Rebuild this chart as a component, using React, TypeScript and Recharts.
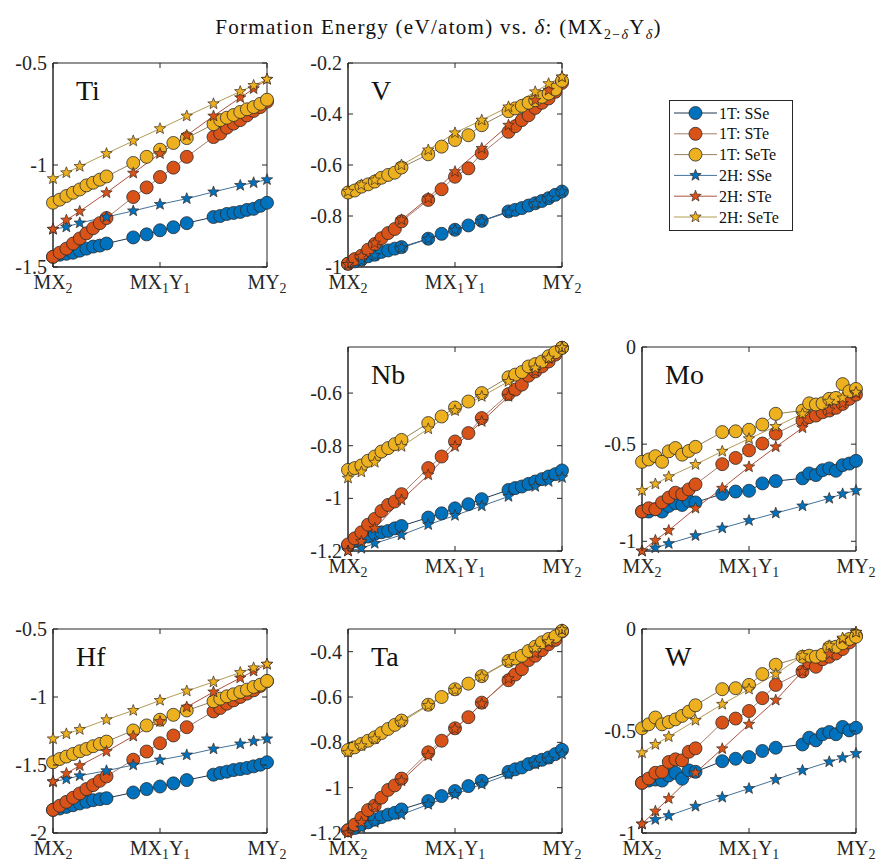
import React from "react";
import { LineChart, Line, XAxis, YAxis, ReferenceArea } from "recharts";

// delta values: 1T sampled densely near the ends, 2H on a coarser grid
const delta1T = [0, 0.0625, 0.125, 0.1875, 0.25, 0.3125, 0.375, 0.4375, 0.5, 0.75, 0.875, 1, 1.125, 1.25, 1.5, 1.5625, 1.625, 1.6875, 1.75, 1.8125, 1.875, 1.9375, 2];
const delta2H = [0, 0.125, 0.25, 0.5, 0.75, 1, 1.25, 1.5, 1.75, 1.875, 2];
const xTicks = [0, 1, 2];
const xTickLabels = ["MX_2", "MX_1Y_1", "MY_2"];
const seriesLabels = ["1T: SSe", "1T: STe", "1T: SeTe", "2H: SSe", "2H: STe", "2H: SeTe"];

// Ti
const ti1T_SSe = [-1.45, -1.44, -1.435, -1.43, -1.42, -1.41, -1.4, -1.395, -1.385, -1.355, -1.34, -1.32, -1.305, -1.285, -1.255, -1.25, -1.24, -1.235, -1.23, -1.22, -1.215, -1.2, -1.185];
const ti1T_STe = [-1.45, -1.43, -1.41, -1.385, -1.36, -1.335, -1.31, -1.285, -1.26, -1.157, -1.11, -1.059, -1.013, -0.96, -0.863, -0.846, -0.817, -0.797, -0.78, -0.757, -0.735, -0.716, -0.69];
const ti1T_SeTe = [-1.185, -1.17, -1.152, -1.136, -1.12, -1.1, -1.087, -1.072, -1.056, -0.99, -0.96, -0.925, -0.892, -0.868, -0.8, -0.78, -0.768, -0.755, -0.74, -0.727, -0.716, -0.7, -0.68];
const ti2H_SSe = [-1.315, -1.304, -1.284, -1.255, -1.225, -1.193, -1.165, -1.132, -1.1, -1.087, -1.072];
const ti2H_STe = [-1.315, -1.27, -1.227, -1.136, -1.04, -0.944, -0.855, -0.76, -0.67, -0.626, -0.58];
const ti2H_SeTe = [-1.067, -1.038, -1.007, -0.944, -0.882, -0.822, -0.76, -0.7, -0.64, -0.61, -0.58];

// V
const v1T_SSe = [-0.987, -0.978, -0.971, -0.958, -0.952, -0.941, -0.935, -0.928, -0.922, -0.889, -0.87, -0.854, -0.837, -0.819, -0.782, -0.776, -0.769, -0.759, -0.75, -0.741, -0.73, -0.717, -0.704];
const v1T_STe = [-0.987, -0.969, -0.956, -0.932, -0.91, -0.887, -0.867, -0.851, -0.821, -0.737, -0.695, -0.646, -0.613, -0.554, -0.47, -0.448, -0.424, -0.405, -0.376, -0.356, -0.339, -0.313, -0.278];
const v1T_SeTe = [-0.708, -0.7, -0.685, -0.676, -0.665, -0.65, -0.639, -0.63, -0.61, -0.558, -0.528, -0.502, -0.483, -0.444, -0.389, -0.378, -0.368, -0.356, -0.346, -0.333, -0.32, -0.304, -0.27];
const v2H_SSe = [-0.99, -0.975, -0.955, -0.925, -0.89, -0.855, -0.82, -0.785, -0.752, -0.73, -0.705];
const v2H_STe = [-0.99, -0.958, -0.906, -0.815, -0.73, -0.626, -0.535, -0.444, -0.346, -0.307, -0.255];
const v2H_SeTe = [-0.704, -0.678, -0.659, -0.6, -0.541, -0.474, -0.424, -0.372, -0.313, -0.281, -0.255];

// Nb
const nb1T_SSe = [-1.18, -1.162, -1.152, -1.145, -1.135, -1.129, -1.124, -1.114, -1.105, -1.073, -1.057, -1.038, -1.022, -1.003, -0.968, -0.961, -0.955, -0.945, -0.936, -0.927, -0.917, -0.908, -0.894];
const nb1T_STe = [-1.175, -1.152, -1.129, -1.1, -1.078, -1.048, -1.025, -1.012, -0.984, -0.885, -0.841, -0.784, -0.752, -0.695, -0.604, -0.587, -0.568, -0.534, -0.518, -0.499, -0.48, -0.454, -0.428];
const nb1T_SeTe = [-0.892, -0.885, -0.875, -0.857, -0.841, -0.822, -0.809, -0.794, -0.778, -0.714, -0.689, -0.655, -0.632, -0.6, -0.54, -0.53, -0.52, -0.499, -0.49, -0.48, -0.46, -0.445, -0.428];
const nb2H_SSe = [-1.2, -1.19, -1.171, -1.139, -1.1, -1.065, -1.029, -0.993, -0.955, -0.936, -0.921];
const nb2H_STe = [-1.2, -1.164, -1.114, -1.006, -0.911, -0.803, -0.708, -0.613, -0.518, -0.469, -0.428];
const nb2H_SeTe = [-0.923, -0.9, -0.863, -0.803, -0.736, -0.667, -0.613, -0.556, -0.505, -0.467, -0.428];

// Mo
const mo1T_SSe = [-0.847, -0.847, -0.835, -0.847, -0.818, -0.804, -0.813, -0.792, -0.8, -0.756, -0.744, -0.74, -0.702, -0.69, -0.676, -0.651, -0.659, -0.634, -0.625, -0.637, -0.608, -0.6, -0.586];
const mo1T_STe = [-0.847, -0.83, -0.835, -0.8, -0.775, -0.75, -0.758, -0.733, -0.707, -0.603, -0.571, -0.532, -0.497, -0.446, -0.378, -0.361, -0.353, -0.336, -0.327, -0.313, -0.293, -0.267, -0.245];
const mo1T_SeTe = [-0.591, -0.579, -0.562, -0.591, -0.537, -0.52, -0.554, -0.535, -0.514, -0.438, -0.434, -0.426, -0.399, -0.344, -0.327, -0.29, -0.296, -0.29, -0.267, -0.262, -0.191, -0.228, -0.216];
const mo2H_SSe = [-1.05, -1.034, -1.012, -0.971, -0.932, -0.893, -0.855, -0.818, -0.779, -0.756, -0.739];
const mo2H_STe = [-1.05, -0.995, -0.944, -0.83, -0.727, -0.617, -0.514, -0.416, -0.324, -0.29, -0.238];
const mo2H_SeTe = [-0.739, -0.705, -0.668, -0.605, -0.537, -0.472, -0.409, -0.344, -0.279, -0.262, -0.233];

// Hf
const hf1T_SSe = [-1.83, -1.82, -1.808, -1.796, -1.783, -1.771, -1.759, -1.751, -1.744, -1.702, -1.677, -1.658, -1.635, -1.611, -1.571, -1.559, -1.549, -1.537, -1.53, -1.522, -1.51, -1.498, -1.48];
const hf1T_STe = [-1.83, -1.8, -1.771, -1.741, -1.709, -1.677, -1.648, -1.616, -1.584, -1.461, -1.401, -1.34, -1.283, -1.222, -1.106, -1.081, -1.049, -1.025, -1.0, -0.975, -0.951, -0.919, -0.884];
const hf1T_SeTe = [-1.48, -1.456, -1.438, -1.419, -1.399, -1.382, -1.362, -1.345, -1.328, -1.246, -1.209, -1.167, -1.131, -1.099, -1.032, -1.012, -0.995, -0.98, -0.963, -0.946, -0.926, -0.909, -0.882];
const hf2H_SSe = [-1.623, -1.603, -1.579, -1.542, -1.5, -1.463, -1.426, -1.382, -1.345, -1.325, -1.308];
const hf2H_STe = [-1.623, -1.562, -1.505, -1.401, -1.288, -1.18, -1.074, -0.963, -0.86, -0.81, -0.759];
const hf2H_SeTe = [-1.308, -1.271, -1.239, -1.167, -1.099, -1.025, -0.956, -0.889, -0.82, -0.786, -0.759];

// Ta
const ta1T_SSe = [-1.188, -1.178, -1.163, -1.153, -1.141, -1.13, -1.119, -1.111, -1.096, -1.059, -1.037, -1.015, -0.993, -0.97, -0.93, -0.919, -0.911, -0.896, -0.886, -0.877, -0.867, -0.852, -0.833];
const ta1T_STe = [-1.188, -1.163, -1.133, -1.099, -1.079, -1.044, -1.01, -0.99, -0.96, -0.844, -0.793, -0.738, -0.689, -0.625, -0.526, -0.501, -0.477, -0.437, -0.418, -0.393, -0.367, -0.348, -0.311];
const ta1T_SeTe = [-0.834, -0.822, -0.807, -0.793, -0.778, -0.759, -0.741, -0.723, -0.704, -0.634, -0.6, -0.566, -0.541, -0.508, -0.441, -0.43, -0.418, -0.397, -0.378, -0.359, -0.344, -0.333, -0.308];
const ta2H_SSe = [-1.2, -1.178, -1.153, -1.119, -1.074, -1.03, -0.985, -0.941, -0.896, -0.874, -0.852];
const ta2H_STe = [-1.2, -1.153, -1.081, -0.97, -0.859, -0.741, -0.63, -0.519, -0.407, -0.359, -0.304];
const ta2H_SeTe = [-0.844, -0.815, -0.785, -0.711, -0.637, -0.57, -0.511, -0.444, -0.385, -0.356, -0.304];

// W
const w1T_SSe = [-0.754, -0.743, -0.738, -0.743, -0.718, -0.705, -0.734, -0.693, -0.7, -0.648, -0.636, -0.628, -0.598, -0.582, -0.566, -0.533, -0.546, -0.516, -0.505, -0.516, -0.48, -0.497, -0.484];
const w1T_STe = [-0.754, -0.733, -0.705, -0.7, -0.652, -0.639, -0.644, -0.602, -0.585, -0.459, -0.439, -0.402, -0.339, -0.274, -0.208, -0.164, -0.185, -0.148, -0.136, -0.12, -0.098, -0.066, -0.033];
const w1T_SeTe = [-0.487, -0.467, -0.434, -0.467, -0.456, -0.443, -0.426, -0.405, -0.374, -0.295, -0.29, -0.274, -0.221, -0.175, -0.136, -0.131, -0.136, -0.126, -0.09, -0.087, -0.07, -0.049, -0.038];
const w2H_SSe = [-0.956, -0.934, -0.915, -0.869, -0.825, -0.782, -0.738, -0.693, -0.651, -0.631, -0.61];
const w2H_STe = [-0.956, -0.893, -0.831, -0.705, -0.587, -0.467, -0.349, -0.208, -0.123, -0.049, -0.016];
const w2H_SeTe = [-0.607, -0.566, -0.528, -0.448, -0.369, -0.295, -0.221, -0.131, -0.082, -0.044, -0.016];

const FONT = "'Liberation Serif', 'Times New Roman', serif";
const AX = "#262626";
const PW = 214;
const PH = 204;
const YW = 45;
const MT = 10;
const MR = 32;

const styles = [
  { fill: "#0072BD", line: "#1d3650", star: false },
  { fill: "#D95319", line: "#a67c6c", star: false },
  { fill: "#EDB120", line: "#958257", star: false },
  { fill: "#0072BD", line: "#44729a", star: true },
  { fill: "#D95319", line: "#b0533e", star: true },
  { fill: "#EDB120", line: "#b39a55", star: true },
];

const panels = [
  { name: "Ti", left: 53, top: 63, domain: [-1.5, -0.5], ticks: [-1.5, -1, -0.5], series: [ti1T_SSe, ti1T_STe, ti1T_SeTe, ti2H_SSe, ti2H_STe, ti2H_SeTe] },
  { name: "V", left: 348, top: 63, domain: [-1, -0.2], ticks: [-1, -0.8, -0.6, -0.4, -0.2], series: [v1T_SSe, v1T_STe, v1T_SeTe, v2H_SSe, v2H_STe, v2H_SeTe] },
  { name: "Nb", left: 348, top: 347, domain: [-1.2, -0.425], ticks: [-1.2, -1, -0.8, -0.6], series: [nb1T_SSe, nb1T_STe, nb1T_SeTe, nb2H_SSe, nb2H_STe, nb2H_SeTe] },
  { name: "Mo", left: 642, top: 347, domain: [-1.05, 0], ticks: [-1, -0.5, 0], series: [mo1T_SSe, mo1T_STe, mo1T_SeTe, mo2H_SSe, mo2H_STe, mo2H_SeTe] },
  { name: "Hf", left: 53, top: 629, domain: [-2, -0.5], ticks: [-2, -1.5, -1, -0.5], series: [hf1T_SSe, hf1T_STe, hf1T_SeTe, hf2H_SSe, hf2H_STe, hf2H_SeTe] },
  { name: "Ta", left: 348, top: 629, domain: [-1.2, -0.3], ticks: [-1.2, -1, -0.8, -0.6, -0.4], series: [ta1T_SSe, ta1T_STe, ta1T_SeTe, ta2H_SSe, ta2H_STe, ta2H_SeTe] },
  { name: "W", left: 642, top: 629, domain: [-1, 0], ticks: [-1, -0.5, 0], series: [w1T_SSe, w1T_STe, w1T_SeTe, w2H_SSe, w2H_STe, w2H_SeTe] },
];

function starPath(cx: number, cy: number, R: number) {
  const r = R * 0.42;
  let d = "";
  for (let i = 0; i < 10; i++) {
    const rad = i % 2 === 0 ? R : r;
    const a = -Math.PI / 2 + (i * Math.PI) / 5;
    d += (i === 0 ? "M" : "L") + (cx + rad * Math.cos(a)).toFixed(2) + "," + (cy + rad * Math.sin(a)).toFixed(2);
  }
  return d + "Z";
}

function YTick(props: any) {
  const { x, y, payload } = props;
  const ax = x + 6;
  return (
    <g>
      <text x={x} y={y} dy="0.35em" textAnchor="end" fontFamily={FONT} fontSize={20} fill={AX}>
        {String(payload.value)}
      </text>
      <line x1={ax} x2={ax + 5} y1={y} y2={y} stroke={AX} />
      <line x1={ax + PW - 5} x2={ax + PW} y1={y} y2={y} stroke={AX} />
    </g>
  );
}

function XTick(props: any) {
  const { x, y, index } = props;
  const ay = y - 2;
  const parts = xTickLabels[index].split(/_(\d)/);
  let shift = 0;
  return (
    <g>
      <line x1={x} x2={x} y1={ay} y2={ay - 5} stroke={AX} />
      <line x1={x} x2={x} y1={ay - PH} y2={ay - PH + 5} stroke={AX} />
      <text x={x} y={ay + 22} textAnchor="middle" fontFamily={FONT} fontSize={20} fill={AX}>
        {parts.map((p: string, i: number) => {
          if (!p) return null;
          const sub = i % 2 === 1;
          const dy = sub ? 4 - shift : -shift;
          shift = sub ? 4 : 0;
          return (
            <tspan key={i} dy={dy} fontSize={sub ? 14 : 20}>
              {p}
            </tspan>
          );
        })}
      </text>
    </g>
  );
}

function makeStar(fill: string) {
  return (p: any) => {
    if (p.cx == null || p.cy == null) return <g key={p.index} />;
    return <path key={p.index} d={starPath(p.cx, p.cy, 6)} fill={fill} stroke="#3a2a20" strokeWidth={0.7} />;
  };
}

function Panel({ panel }: { panel: any }) {
  return (
    <div style={{ position: "absolute", left: panel.left - YW, top: panel.top - MT }}>
      <LineChart width={YW + PW + MR} height={MT + PH + 34} margin={{ top: MT, right: MR, bottom: 0, left: 0 }}>
        <XAxis
          type="number"
          dataKey="d"
          domain={[0, 2]}
          ticks={xTicks}
          tick={<XTick />}
          tickLine={false}
          tickSize={0}
          tickMargin={2}
          height={34}
          axisLine={{ stroke: AX }}
          interval={0}
        />
        <YAxis
          type="number"
          domain={panel.domain}
          ticks={panel.ticks}
          tick={<YTick />}
          tickLine={false}
          tickSize={0}
          tickMargin={6}
          width={YW}
          axisLine={{ stroke: AX }}
          interval={0}
        />
        <ReferenceArea x1={0} x2={2} y1={panel.domain[0]} y2={panel.domain[1]} fill="none" stroke={AX} strokeWidth={1} />
        {panel.series.map((vals: number[], i: number) => {
          const st = styles[i];
          const xs = st.star ? delta2H : delta1T;
          const pts = xs.map((d, k) => ({ d, v: vals[k] }));
          return (
            <Line
              key={seriesLabels[i]}
              data={pts}
              dataKey="v"
              type="linear"
              stroke={st.line}
              strokeWidth={1}
              isAnimationActive={false}
              activeDot={false}
              dot={st.star ? makeStar(st.fill) : { r: 6.5, fill: st.fill, stroke: "#2a2a2a", strokeWidth: 0.8 }}
            />
          );
        })}
      </LineChart>
      <svg style={{ position: "absolute", left: YW, top: MT, pointerEvents: "none" }} width={100} height={50}>
        <text x={23} y={37} fontFamily={FONT} fontSize={28} fill="#111">
          {panel.name}
        </text>
      </svg>
    </div>
  );
}

function LegendBox() {
  const rowH = 20.8;
  return (
    <svg style={{ position: "absolute", left: 669, top: 100 }} width={126} height={134}>
      <rect x={0.5} y={0.5} width={123} height={130} fill="#fff" stroke={AX} />
      {seriesLabels.map((lab, i) => {
        const st = styles[i];
        const cy = 13 + i * rowH;
        return (
          <g key={lab}>
            <line x1={5} x2={48} y1={cy} y2={cy} stroke={st.line} strokeWidth={1} />
            {st.star ? (
              <path d={starPath(26.5, cy, 6)} fill={st.fill} stroke="#3a2a20" strokeWidth={0.7} />
            ) : (
              <circle cx={26.5} cy={cy} r={6.5} fill={st.fill} stroke="#2a2a2a" strokeWidth={0.8} />
            )}
            <text x={50} y={cy} dy="0.35em" fontFamily={FONT} fontSize={16} fill="#111">
              {lab}
            </text>
          </g>
        );
      })}
    </svg>
  );
}

export default function App() {
  return (
    <div style={{ position: "absolute", left: 0, top: 0, width: 877, height: 863, overflow: "hidden", background: "#fff", fontFamily: FONT }}>
      <div style={{ position: "absolute", top: 15, left: 0, width: 877, textAlign: "center", fontSize: 21, letterSpacing: 1.3, color: "#111", lineHeight: "24px" }}>
        Formation Energy (eV/atom) vs. <i>δ</i>: (MX<sub style={{ fontSize: 14 }}>2−<i>δ</i></sub>Y<sub style={{ fontSize: 14 }}><i>δ</i></sub>)
      </div>
      {panels.map((p) => (
        <Panel key={p.name} panel={p} />
      ))}
      <LegendBox />
    </div>
  );
}
